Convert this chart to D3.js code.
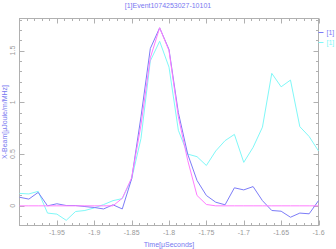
<!DOCTYPE html>
<html>
<head>
<meta charset="utf-8">
<script src="https://cdnjs.cloudflare.com/ajax/libs/d3/7.8.5/d3.min.js"></script>
<style>
  body { margin: 0; background: #fff; }
  text { font-family: "Liberation Sans", Arial, sans-serif; }
</style>
</head>
<body>
<div id="chart"></div>
<script>
// sample times (microseconds)
var times = [-2, -1.9875, -1.975, -1.9625, -1.95, -1.9375, -1.925, -1.9125, -1.9, -1.8875,
  -1.875, -1.8625, -1.85, -1.8375, -1.825, -1.8125, -1.8, -1.7875, -1.775, -1.7625,
  -1.75, -1.7375, -1.725, -1.7125, -1.7, -1.6875, -1.675, -1.6625, -1.65, -1.6375,
  -1.625, -1.6125, -1.6];

var blueSeries = [0.083, 0.065, 0.13, 0.0, 0.02, 0.003, 0.003, -0.007, -0.016, -0.03,
  0.01, -0.03, 0.26, 0.86, 1.52, 1.72, 1.51, 0.9, 0.5, 0.245,
  0.1, 0.035, 0.01, 0.174, 0.154, 0.186, 0.05, -0.045, -0.052, -0.11,
  -0.07, -0.077, 0.05];

var cyanSeries = [0.12, 0.115, 0.14, -0.07, -0.08, -0.14, -0.055, -0.045, -0.02, 0.012,
  0.05, 0.07, 0.26, 0.65, 1.40, 1.59, 1.34, 0.73, 0.50, 0.475,
  0.39, 0.53, 0.63, 0.69, 0.42, 0.565, 0.76, 1.28, 1.15, 1.215,
  0.765, 0.67, 0.53];

var magentaSeries = [0, 0, 0, 0, 0, 0, 0, 0, 0, 0,
  0, 0.073, 0.27, 0.78, 1.43, 1.72, 1.5, 0.86, 0.44, 0.1,
  0.013, 0, 0, 0, 0, 0, 0, 0, 0, 0,
  0, 0, 0];

var xTickValues = [-1.95, -1.9, -1.85, -1.8, -1.75, -1.7, -1.65, -1.6];
var yTickValues = [0, 0.5, 1, 1.5];
var legendLabels = ["[1]", "[1]"];

var width = 336, height = 249;
var frame = {left: 19.5, right: 318.5, top: 18.5, bottom: 225.5};
var labelColor = "#7878f0", tickColor = "#999999", frameColor = "#b0b0b0";

var svg = d3.select("#chart").append("svg")
    .attr("width", width)
    .attr("height", height);

var x = d3.scaleLinear().domain([-2, -1.6]).range([frame.left, frame.right]);
var y = d3.scaleLinear().domain([-0.19, 1.81]).range([frame.bottom, frame.top]);

// frame
svg.append("rect")
    .attr("x", frame.left).attr("y", frame.top)
    .attr("width", frame.right - frame.left)
    .attr("height", frame.bottom - frame.top)
    .attr("fill", "none")
    .attr("stroke", frameColor);

// ticks on all four sides, pointing inward
var xMinor = d3.range(-199, -159).map(function(d) { return d / 100; });
var yMinor = d3.range(-1, 19).map(function(d) { return d / 10; });

function isMajor(v, step) {
  return Math.abs(v / step - Math.round(v / step)) < 1e-6;
}

var ticks = svg.append("g").attr("stroke", frameColor).attr("stroke-width", 1);
xMinor.forEach(function(v) {
  var len = isMajor(v, 0.05) ? 5 : 2.5;
  var px = Math.round(x(v)) + 0.5;
  ticks.append("line").attr("x1", px).attr("x2", px).attr("y1", frame.bottom).attr("y2", frame.bottom - len);
  ticks.append("line").attr("x1", px).attr("x2", px).attr("y1", frame.top).attr("y2", frame.top + len);
});
yMinor.forEach(function(v) {
  var len = isMajor(v, 0.5) ? 5 : 2.5;
  var py = Math.round(y(v)) + 0.5;
  ticks.append("line").attr("y1", py).attr("y2", py).attr("x1", frame.left).attr("x2", frame.left + len);
  ticks.append("line").attr("y1", py).attr("y2", py).attr("x1", frame.right).attr("x2", frame.right - len);
});

// tick labels
svg.append("g").selectAll("text")
    .data(xTickValues).enter().append("text")
    .attr("x", function(d) { return x(d); })
    .attr("y", 235)
    .attr("text-anchor", "middle")
    .attr("font-size", 7)
    .attr("fill", tickColor)
    .text(function(d) { return "-" + d3.format("")(-d); });

svg.append("g").selectAll("text")
    .data(yTickValues).enter().append("text")
    .attr("transform", function(d) { return "translate(15," + y(d) + ") rotate(-90)"; })
    .attr("text-anchor", "middle")
    .attr("font-size", 7)
    .attr("fill", tickColor)
    .text(function(d) { return d3.format("")(d); });

// series
var line = d3.line()
    .x(function(d, i) { return x(times[i]); })
    .y(function(d) { return y(d); });

var plot = svg.append("g");
plot.append("path").datum(cyanSeries)
    .attr("d", line).attr("fill", "none").attr("stroke", "#80f8f8").attr("stroke-width", 1);
plot.append("path").datum(blueSeries)
    .attr("d", line).attr("fill", "none").attr("stroke", "#7c7cf8").attr("stroke-width", 1);
plot.append("path").datum(magentaSeries)
    .attr("d", line).attr("fill", "none").attr("stroke", "#ff7cff").attr("stroke-width", 1);

// title and axis titles
svg.append("text")
    .attr("x", 168).attr("y", 8)
    .attr("text-anchor", "middle")
    .attr("font-size", 7)
    .attr("fill", labelColor)
    .text("[1]Event1074253027-10101");

svg.append("text")
    .attr("x", (frame.left + frame.right) / 2).attr("y", 246.5)
    .attr("text-anchor", "middle")
    .attr("font-size", 7)
    .attr("fill", labelColor)
    .text("Time[\u03bcSeconds]");

svg.append("text")
    .attr("transform", "translate(7," + (frame.top + frame.bottom) / 2 + ") rotate(-90)")
    .attr("text-anchor", "middle")
    .attr("font-size", 7)
    .attr("fill", labelColor)
    .text("X-Beam[\u03bcJoule/m/MHz]");

// legend
var legendColors = ["#7c7cf8", "#80f8f8"];
var legend = svg.append("g");
legendLabels.forEach(function(label, i) {
  var ly = 32.5 + i * 10;
  legend.append("line")
      .attr("x1", frame.right).attr("x2", frame.right + 5)
      .attr("y1", ly).attr("y2", ly)
      .attr("stroke", legendColors[i]);
  legend.append("text")
      .attr("x", 326.5).attr("y", ly + 2.5)
      .attr("font-size", 7)
      .attr("fill", legendColors[i])
      .text(label);
});
</script>
</body>
</html>
